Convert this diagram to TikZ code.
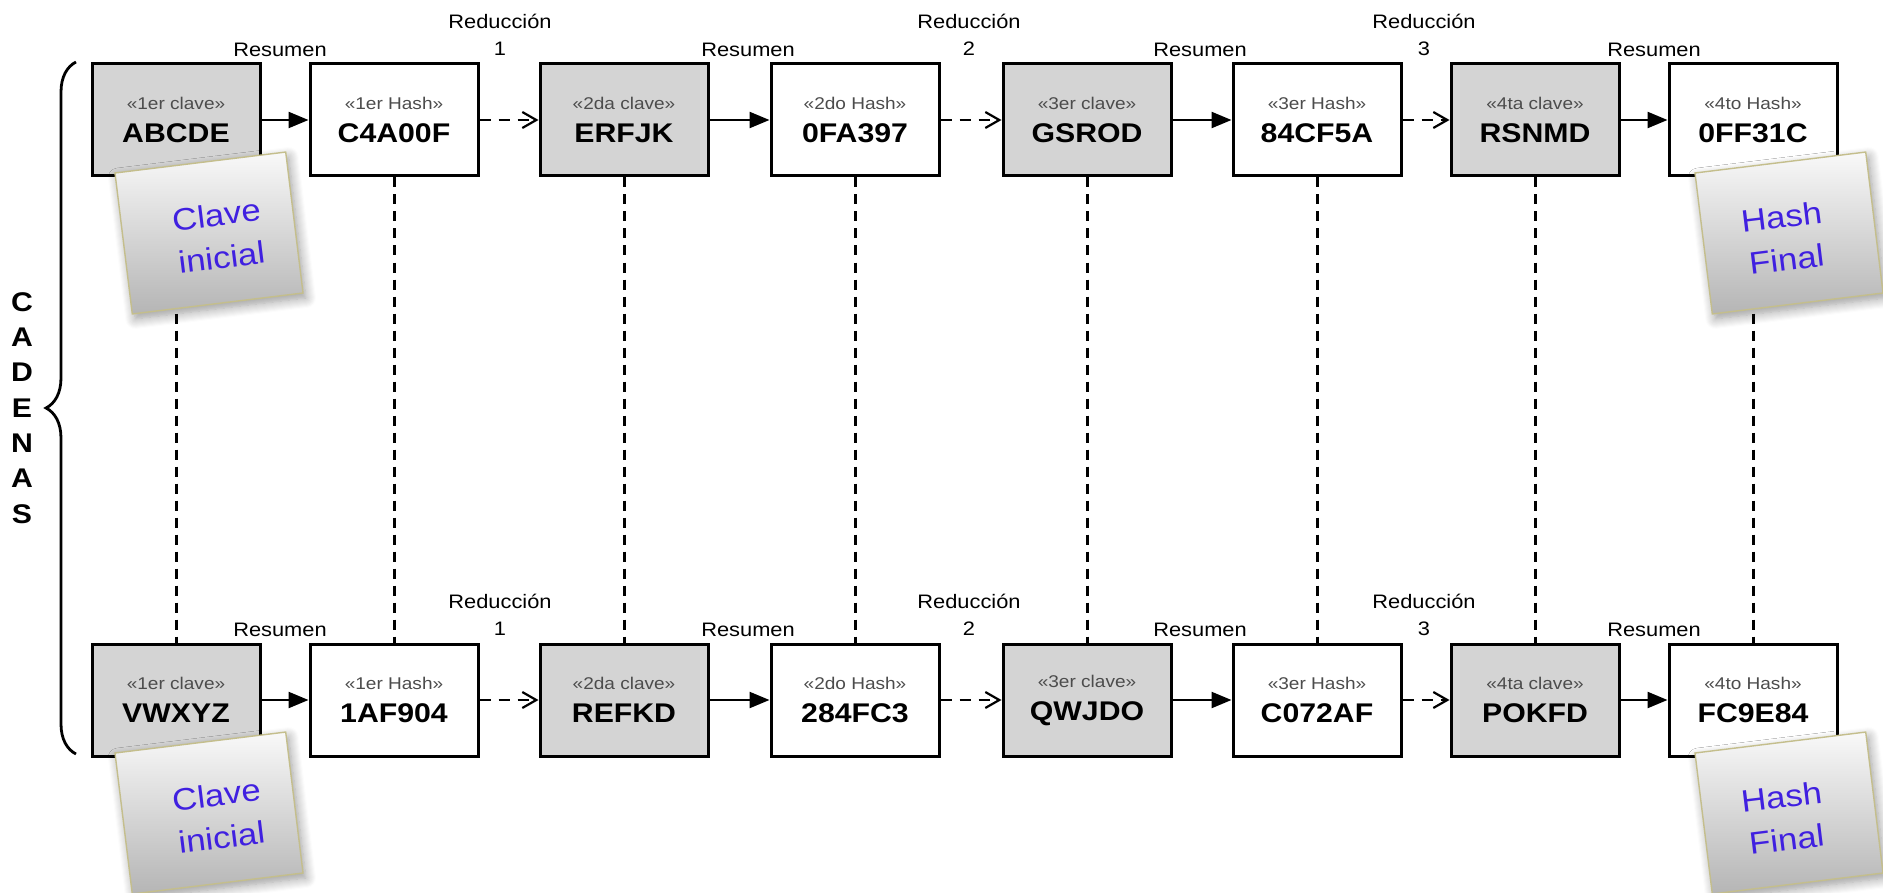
\documentclass[tikz,border=0pt]{standalone}
\usepackage{fontspec}
\setmainfont{Liberation Sans}[FakeStretch=1.12]
\usetikzlibrary{arrows.meta,shadows.blur,decorations.pathreplacing,calc}
\definecolor{keyfill}{gray}{0.83}
\definecolor{notetext}{RGB}{64,32,224}
\definecolor{noteedge}{RGB}{196,190,140}
\definecolor{smalltxt}{gray}{0.3}
\tikzset{
  box/.style={draw=black, line width=1.5pt, minimum width=84pt, minimum height=56pt,
    inner sep=0pt, align=center, font=\fontsize{13.5}{16.5}\selectfont\bfseries},
  keybox/.style={box, fill=keyfill},
  hashbox/.style={box, fill=white},
  flow/.style={line width=1.2pt, -{Triangle[length=10pt,width=8pt]}},
  reduce/.style={line width=1.2pt, dash pattern=on 5.5pt off 4pt, -{Straight Barb[length=7pt,width=8pt,line width=1.1pt]}},
  link/.style={line width=1.5pt, dash pattern=on 5pt off 3.5pt},
  lbl/.style={font=\fontsize{9.75}{13.5}\selectfont, align=center, inner sep=0pt},
  vert/.style={font=\fontsize{13.5}{17.65}\selectfont\bfseries, align=center, inner sep=0pt},
  note/.style={rotate=7, minimum width=86pt, minimum height=71pt, draw=noteedge, line width=0.7pt,
    top color=gray!5, bottom color=gray!58,
    blur shadow={shadow blur steps=10, shadow xshift=1.5pt, shadow yshift=-2.5pt, shadow blur radius=5pt}},
  notetxt/.style={rotate=7, text=notetext, align=center, inner sep=0pt,
    font=\fontsize{15.5}{21.5}\selectfont},
}
\newcommand{\sm}[1]{{\fontsize{8.5}{9}\selectfont\mdseries\color{smalltxt}#1}}
\begin{document}
\begin{tikzpicture}[x=0.5pt,y=-0.5pt]
\useasboundingbox (0,0) rectangle (1883,893);

% row 1 boxes
\node[keybox]  (a1) at (176,120)  {\sm{«1er clave»}\\ABCDE};
\node[hashbox] (a2) at (394,120)  {\sm{«1er Hash»}\\C4A00F};
\node[keybox]  (a3) at (624,120)  {\sm{«2da clave»}\\ERFJK};
\node[hashbox] (a4) at (855,120)  {\sm{«2do Hash»}\\0FA397};
\node[keybox]  (a5) at (1087,120) {\sm{«3er clave»}\\GSROD};
\node[hashbox] (a6) at (1317,120) {\sm{«3er Hash»}\\84CF5A};
\node[keybox]  (a7) at (1535,120) {\sm{«4ta clave»}\\RSNMD};
\node[hashbox] (a8) at (1753,120) {\sm{«4to Hash»}\\0FF31C};

% row 2 boxes
\node[keybox]  (b1) at (176,700)  {\sm{«1er clave»}\\VWXYZ};
\node[hashbox] (b2) at (394,700)  {\sm{«1er Hash»}\\1AF904};
\node[keybox]  (b3) at (624,700)  {\sm{«2da clave»}\\REFKD};
\node[hashbox] (b4) at (855,700)  {\sm{«2do Hash»}\\284FC3};
\node[keybox]  (b5) at (1087,700) {\sm{«3er clave»}\\QWJDO};
\node[hashbox] (b6) at (1317,700) {\sm{«3er Hash»}\\C072AF};
\node[keybox]  (b7) at (1535,700) {\sm{«4ta clave»}\\POKFD};
\node[hashbox] (b8) at (1753,700) {\sm{«4to Hash»}\\FC9E84};

% vertical dashed links
\foreach \i in {1,...,8} {
  \draw[link] (a\i.south) -- (b\i.north);
}

% arrows
\foreach \r in {a,b} {
  \draw[flow]   (\r1.east) -- (\r2.west);
  \draw[reduce] (\r2.east) -- (\r3.west);
  \draw[flow]   (\r3.east) -- (\r4.west);
  \draw[reduce] (\r4.east) -- (\r5.west);
  \draw[flow]   (\r5.east) -- (\r6.west);
  \draw[reduce] (\r6.east) -- (\r7.west);
  \draw[flow]   (\r7.east) -- (\r8.west);
}

% labels row 1
\node[lbl] (ra1) at (280,50)  {Resumen};
\node[lbl] (ra2) at (748,50)  {Resumen};
\node[lbl] (ra3) at (1200,50) {Resumen};
\node[lbl] (ra4) at (1654,50) {Resumen};
\node[lbl] (da1) at (500,35)  {Reducción\\1};
\node[lbl] (da2) at (969,35)  {Reducción\\2};
\node[lbl] (da3) at (1424,35) {Reducción\\3};

% labels row 2
\node[lbl] (rb1) at (280,630)  {Resumen};
\node[lbl] (rb2) at (748,630)  {Resumen};
\node[lbl] (rb3) at (1200,630) {Resumen};
\node[lbl] (rb4) at (1654,630) {Resumen};
\node[lbl] (db1) at (500,615)  {Reducción\\1};
\node[lbl] (db2) at (969,615)  {Reducción\\2};
\node[lbl] (db3) at (1424,615) {Reducción\\3};

% brace and vertical label
\draw[line width=1.4pt, decorate, decoration={brace, amplitude=15pt}] (76,754) -- (76,62);
\node[vert] (cad) at (22,408) {C\\A\\D\\E\\N\\A\\S};

% sticky notes
\node[note] (n1) at (209,233)  {};
\node[note] (n2) at (1789,233) {};
\node[note] (n3) at (209,813)  {};
\node[note] (n4) at (1789,813) {};
\node[notetxt] (t1) at ($(n1.center)+(10,3)$)  {Clave\\inicial};
\node[notetxt] (t2) at ($(n2.center)+(-5,5)$)  {Hash\\Final};
\node[notetxt] (t3) at ($(n3.center)+(10,3)$)  {Clave\\inicial};
\node[notetxt] (t4) at ($(n4.center)+(-5,5)$)  {Hash\\Final};
\end{tikzpicture}
\end{document}
